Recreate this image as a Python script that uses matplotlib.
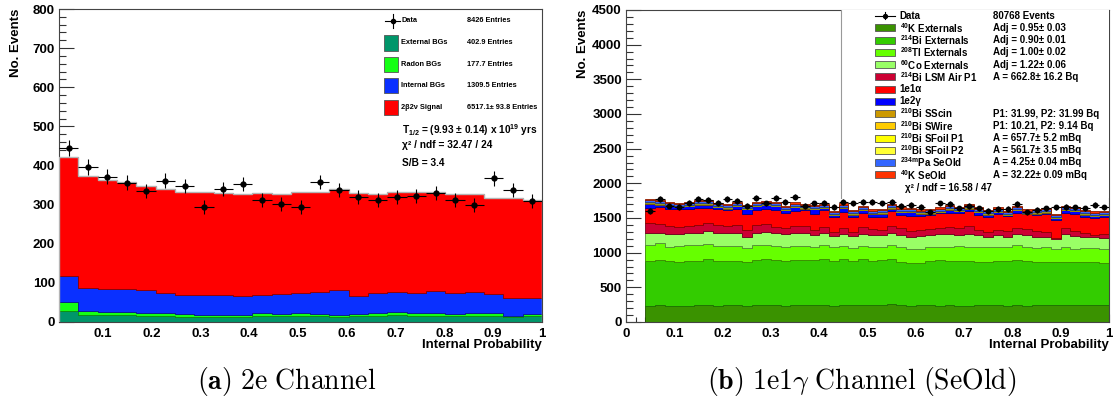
import numpy as np
import matplotlib.pyplot as plt
from matplotlib.patches import Rectangle
from matplotlib.ticker import MultipleLocator, FuncFormatter
from matplotlib.colors import to_rgb

plt.rcParams['font.family'] = ['Liberation Sans', 'DejaVu Sans']
plt.rcParams['font.weight'] = 'bold'
plt.rcParams['mathtext.fontset'] = 'custom'
plt.rcParams['mathtext.rm'] = 'Liberation Sans:bold'
plt.rcParams['mathtext.bf'] = 'Liberation Sans:bold'
plt.rcParams['mathtext.it'] = 'Liberation Sans:bold:italic'

# ---- 2e channel: 25 bins in internal probability, 0.01 - 1.0 ----
data_2e = [445, 396, 371, 356, 335, 361, 348, 294, 340, 353, 312, 302, 294,
           358, 337, 320, 312, 319, 323, 330, 312, 299, 368, 337, 309]
ext_bg = [28, 18, 18, 17, 16, 15, 14, 13, 14, 14, 15, 15, 15, 15, 14, 15,
          16, 17, 15, 16, 15, 16, 15, 13, 15]
radon_bg = [23, 10, 8, 9, 7, 8, 6, 5, 5, 5, 8, 6, 8, 5, 5, 6, 7, 9, 8, 6,
            6, 7, 7, 3, 5]
internal_bg = [67, 59, 58, 59, 59, 51, 49, 50, 50, 48, 47, 51, 51, 57, 63,
               45, 51, 51, 51, 57, 53, 53, 50, 45, 42]
signal_2b2n = [304, 286, 278, 272, 266, 266, 264, 265, 261, 260, 260, 256,
               259, 256, 258, 264, 254, 255, 257, 254, 254, 252, 244, 255, 251]

labels_2e = ['External BGs', 'Radon BGs', 'Internal BGs', '2\u03b22\u03bd Signal']
entries_2e = ['402.9 Entries', '177.7 Entries', '1309.5 Entries',
              '6517.1\u00b1 93.8 Entries']
colors_2e = ['#00966a', '#14ff14', '#0a30ff', '#ff0000']

# ---- 1e1g channel (SeOld): 48 bins, 0.04 - 1.0, cumulative stack levels ----
data_1e1g = [1600, 1773, 1678, 1663, 1721, 1773, 1759, 1721, 1773, 1745, 1673, 1793,
             1711, 1793, 1735, 1802, 1673, 1711, 1721, 1663, 1730, 1711, 1726, 1726,
             1711, 1726, 1673, 1687, 1663, 1581, 1711, 1702, 1639, 1673, 1639, 1600,
             1629, 1629, 1697, 1581, 1615, 1639, 1654, 1663, 1654, 1639, 1687, 1654]
lvl_k40_ext = [232, 248, 236, 230, 234, 240, 242, 236, 244, 240, 236, 246,
               244, 238, 236, 242, 238, 242, 248, 236, 244, 238, 248, 242,
               250, 256, 248, 236, 238, 244, 236, 238, 236, 236, 244, 238,
               244, 236, 244, 236, 238, 238, 244, 252, 250, 238, 244, 252]
lvl_bi214_ext = [879, 894, 879, 870, 879, 884, 904, 884, 879, 879, 870, 894,
                 904, 894, 879, 894, 894, 894, 908, 884, 904, 884, 904, 884,
                 894, 908, 870, 846, 855, 884, 894, 879, 879, 879, 870, 870,
                 879, 884, 894, 884, 870, 870, 860, 870, 860, 870, 860, 855]
lvl_tl208_ext = [1110, 1134, 1077, 1096, 1110, 1110, 1125, 1096, 1096, 1096, 1062, 1110,
                 1110, 1096, 1077, 1096, 1101, 1077, 1110, 1077, 1096, 1062, 1096, 1077,
                 1077, 1110, 1077, 1048, 1048, 1077, 1086, 1077, 1096, 1086, 1077, 1077,
                 1077, 1077, 1105, 1077, 1062, 1077, 1048, 1077, 1048, 1062, 1062, 1048]
lvl_co60_ext = [1288, 1288, 1269, 1269, 1278, 1288, 1307, 1288, 1278, 1278, 1230, 1288,
                1298, 1278, 1269, 1278, 1278, 1254, 1288, 1240, 1269, 1240, 1269, 1254,
                1254, 1288, 1254, 1230, 1240, 1254, 1269, 1269, 1254, 1269, 1254, 1230,
                1254, 1230, 1269, 1254, 1230, 1221, 1195, 1269, 1240, 1230, 1221, 1206]
lvl_bi214_air = [1423, 1413, 1384, 1375, 1384, 1399, 1423, 1399, 1389, 1399, 1327, 1399,
                 1413, 1375, 1351, 1384, 1384, 1327, 1375, 1302, 1351, 1302, 1365, 1336,
                 1327, 1384, 1351, 1317, 1327, 1336, 1351, 1365, 1360, 1384, 1327, 1302,
                 1327, 1312, 1351, 1336, 1317, 1302, 1215, 1351, 1317, 1278, 1254, 1269]
lvl_1e1a = [1649, 1663, 1634, 1625, 1634, 1639, 1649, 1625, 1615, 1625, 1553, 1615,
            1625, 1615, 1567, 1605, 1615, 1557, 1615, 1509, 1591, 1509, 1577, 1519,
            1519, 1605, 1543, 1528, 1528, 1543, 1567, 1577, 1577, 1601, 1543, 1519,
            1553, 1528, 1577, 1553, 1543, 1553, 1471, 1567, 1553, 1519, 1495, 1509]
lvl_1e2g = [1705, 1691, 1667, 1657, 1667, 1691, 1691, 1657, 1633, 1667, 1623, 1667,
            1681, 1667, 1609, 1657, 1633, 1623, 1643, 1537, 1643, 1547, 1609, 1561,
            1561, 1633, 1585, 1585, 1561, 1561, 1585, 1619, 1600, 1635, 1585, 1547,
            1585, 1537, 1609, 1561, 1561, 1575, 1498, 1609, 1595, 1549, 1527, 1537]
# small contributions on top of the stack (counts per bin)
bi210_sscin = [6, 5, 6, 4, 5, 6, 5, 4, 6, 5, 5, 6, 4, 5, 6, 5, 5, 6, 4, 5, 6, 5, 5, 4,
               6, 5, 5, 6, 4, 5, 5, 6, 5, 4, 6, 5, 5, 6, 4, 5, 5, 6, 5, 4, 6, 5, 5, 4]
bi210_swire = [3, 3, 2, 3, 4, 3, 3, 2, 3, 3, 4, 3, 3, 2, 3, 3, 3, 2, 3, 3, 4, 3, 2, 3,
               3, 3, 2, 3, 4, 3, 3, 2, 3, 3, 2, 3, 3, 4, 3, 2, 3, 3, 3, 2, 3, 3, 4, 3]
bi210_sfoil1 = [7, 6, 7, 6, 7, 8, 6, 7, 6, 7, 6, 7, 8, 6, 7, 6, 7, 6, 7, 7, 6, 8, 7, 6,
                7, 6, 7, 6, 7, 8, 6, 7, 6, 7, 7, 6, 8, 7, 6, 7, 6, 7, 7, 8, 6, 7, 6, 7]
bi210_sfoil2 = [5, 5, 4, 5, 6, 5, 5, 4, 5, 5, 6, 5, 4, 5, 5, 6, 5, 5, 4, 5, 5, 6, 5, 4,
                5, 6, 5, 5, 4, 5, 6, 5, 5, 4, 5, 5, 6, 5, 5, 4, 5, 6, 5, 5, 4, 5, 5, 6]
pa234m_seold = [30, 28, 31, 29, 27, 30, 32, 28, 29, 31, 27, 30, 29, 32, 28, 30,
                31, 27, 30, 28, 29, 31, 30, 28, 27, 30, 32, 29, 28, 30, 31, 29,
                28, 30, 29, 31, 27, 30, 29, 28, 31, 30, 27, 29, 30, 28, 31, 29]
k40_seold = [20, 18, 19, 17, 18, 20, 19, 17, 18, 19, 20, 18, 17, 19, 18, 20,
             18, 19, 17, 20, 18, 19, 18, 17, 19, 20, 18, 17, 19, 18, 20, 19,
             17, 18, 20, 19, 18, 17, 19, 20, 18, 19, 17, 18, 20, 19, 18, 17]

labels_1e1g = [r'$^{\mathbf{40}}$K Externals', r'$^{\mathbf{214}}$Bi Externals',
               r'$^{\mathbf{208}}$Tl Externals', r'$^{\mathbf{60}}$Co Externals',
               r'$^{\mathbf{214}}$Bi LSM Air P1', '1e1\u03b1', '1e2\u03b3',
               r'$^{\mathbf{210}}$Bi SScin', r'$^{\mathbf{210}}$Bi SWire',
               r'$^{\mathbf{210}}$Bi SFoil P1', r'$^{\mathbf{210}}$Bi SFoil P2',
               r'$^{\mathbf{234m}}$Pa SeOld', r'$^{\mathbf{40}}$K SeOld']
values_1e1g = ['Adj = 0.95\u00b1 0.03', 'Adj = 0.90\u00b1 0.01', 'Adj = 1.00\u00b1 0.02',
               'Adj = 1.22\u00b1 0.06', 'A = 662.8\u00b1 16.2 Bq', '', '',
               'P1: 31.99, P2: 31.99 Bq', 'P1: 10.21, P2: 9.14 Bq',
               'A = 657.7\u00b1 5.2 mBq', 'A = 561.7\u00b1 3.5 mBq',
               'A = 4.25\u00b1 0.04 mBq', 'A = 32.22\u00b1 0.09 mBq']
colors_1e1g = ['#3a9200', '#33cc00', '#66ff00', '#99ff66', '#cc0033', '#ff0000',
               '#0000ff', '#cc9900', '#ffcc00', '#ffff00', '#ffff33', '#3366ff',
               '#ff3300']


def darker(c, f=0.55):
    r, g, b = to_rgb(c)
    return (r * f, g * f, b * f)


def draw_levels(ax, edges, levels, colors):
    lower = np.zeros(len(edges) - 1)
    for upper, c in zip(levels, colors):
        upper = np.asarray(upper, dtype=float)
        ax.stairs(upper, edges, baseline=lower, fill=True, facecolor=c,
                  edgecolor=darker(c), lw=0.6, zorder=2)
        lower = upper
    return lower


def draw_data(ax, edges, counts, ms=3.5):
    centers = 0.5 * (edges[1:] + edges[:-1])
    half = 0.5 * (edges[1] - edges[0])
    counts = np.asarray(counts, dtype=float)
    ax.errorbar(centers, counts, yerr=np.sqrt(counts), xerr=half, fmt='o',
                color='k', ms=ms, lw=0.8, capsize=0, zorder=5)


def style_axes(ax, xmin, ymax, ymajor, yminor):
    ax.set_xlim(xmin, 1.0)
    ax.set_ylim(0, ymax)
    ax.set_axisbelow(True)
    ax.xaxis.set_major_locator(MultipleLocator(0.1))
    ax.xaxis.set_minor_locator(MultipleLocator(0.02))
    ax.yaxis.set_major_locator(MultipleLocator(ymajor))
    ax.yaxis.set_minor_locator(MultipleLocator(yminor))
    ax.xaxis.set_major_formatter(FuncFormatter(lambda v, p: f'{v:g}'))
    ax.tick_params(which='both', direction='in', top=False, right=False,
                   labelsize=9.5, width=0.8, color='#333333')
    ax.tick_params(axis='y', which='major', length=10.5, pad=3)
    ax.tick_params(axis='y', which='minor', length=5)
    ax.tick_params(axis='x', which='major', length=6, pad=4)
    ax.tick_params(axis='x', which='minor', length=3.5)
    for s in ax.spines.values():
        s.set_linewidth(0.8)
        s.set_color('#444444')
    ax.text(1.0, -0.0735, 'Internal Probability', transform=ax.transAxes,
            ha='right', va='center', fontsize=9.5)
    ax.text(-0.09, 1.0, 'No. Events', transform=ax.transAxes, rotation=90,
            ha='center', va='top', fontsize=9.5)


fig = plt.figure(figsize=(11.13, 4.0), dpi=100)

# ---------------- (a) 2e channel ----------------
ax1 = fig.add_axes([59 / 1113, 78 / 400, 483 / 1113, 313 / 400])
edges_2e = np.linspace(0.01, 1.0, len(data_2e) + 1)
stack_2e = np.cumsum([ext_bg, radon_bg, internal_bg, signal_2b2n], axis=0)
total_2e = draw_levels(ax1, edges_2e, stack_2e, colors_2e)
ax1.stairs(total_2e, edges_2e, color='#b4b4b4', lw=1.0, zorder=3)
draw_data(ax1, edges_2e, data_2e)
style_axes(ax1, 0.01, 800, 100, 20)

# legend
tr = ax1.transAxes
ax1.plot([0.675, 0.706], [0.962, 0.962], color='k', lw=0.8, transform=tr)
ax1.plot([0.6905, 0.6905], [0.94, 0.984], color='k', lw=0.8, transform=tr)
ax1.plot([0.6905], [0.962], 'o', color='k', ms=3, transform=tr)
ax1.text(0.709, 0.962, 'Data', transform=tr, va='center', fontsize=5.3)
ax1.text(0.845, 0.962, '8426 Entries', transform=tr, va='center', fontsize=5.3)
for i, (lab, ent, c) in enumerate(zip(labels_2e, entries_2e, colors_2e)):
    y = 0.8914 - i * 0.0683
    ax1.add_patch(Rectangle((0.673, y - 0.024), 0.029, 0.048, transform=tr,
                            facecolor=c, edgecolor='#555555', lw=0.6, zorder=6))
    ax1.text(0.709, y, lab, transform=tr, va='center', fontsize=5.3)
    ax1.text(0.845, y, ent, transform=tr, va='center', fontsize=5.3)
ax1.text(0.710, 0.613, r'T$_{\mathbf{1/2}}$ = (9.93 $\pm$ 0.14) x 10$^{\mathbf{19}}$ yrs',
         transform=tr, va='center', fontsize=7.3)
ax1.text(0.710, 0.5655, '\u03c7\u00b2 / ndf = 32.47 / 24', transform=tr,
         va='center', fontsize=7.3)
ax1.text(0.710, 0.508, 'S/B = 3.4', transform=tr, va='center', fontsize=7.3)

# ---------------- (b) 1e1g channel ----------------
ax2 = fig.add_axes([626 / 1113, 78 / 400, 483 / 1113, 312 / 400])
edges_1e1g = np.linspace(0.04, 1.0, len(data_1e1g) + 1)
levels = [lvl_k40_ext, lvl_bi214_ext, lvl_tl208_ext, lvl_co60_ext, lvl_bi214_air,
          lvl_1e1a, lvl_1e2g]
top = np.asarray(lvl_1e2g, dtype=float)
for extra in [bi210_sscin, bi210_swire, bi210_sfoil1, bi210_sfoil2,
              pa234m_seold, k40_seold]:
    top = top + np.asarray(extra)
    levels.append(top.copy())
draw_levels(ax2, edges_1e1g, levels, colors_1e1g)
draw_data(ax2, edges_1e1g, data_1e1g, ms=3.2)
style_axes(ax2, 0.0, 4500, 500, 100)
ax2.yaxis.set_major_formatter(FuncFormatter(lambda v, p: f'{v:g}'))

# legend box (white, only its left border shows)
tr = ax2.transAxes
ax2.add_patch(Rectangle((0.445, 0.397), 0.555, 0.603, transform=tr,
                        facecolor='white', edgecolor='none', zorder=6))
ax2.plot([0.445, 0.445], [0.397, 1.0], color='#999999', lw=0.8, transform=tr,
         zorder=6)
row0 = 0.9817
step = 0.0392
ax2.plot([0.5155, 0.557], [row0, row0], color='k', lw=0.8, transform=tr, zorder=7)
ax2.plot([0.536, 0.536], [row0 - 0.012, row0 + 0.012], color='k', lw=0.8,
         transform=tr, zorder=7)
ax2.plot([0.536], [row0], 'o', color='k', ms=2.8, transform=tr, zorder=7)
ax2.text(0.567, row0, 'Data', transform=tr, va='center', fontsize=7, zorder=7)
ax2.text(0.760, row0, '80768 Events', transform=tr, va='center', fontsize=7, zorder=7)
for i, (lab, val, c) in enumerate(zip(labels_1e1g, values_1e1g, colors_1e1g)):
    y = row0 - (i + 1) * step
    ax2.add_patch(Rectangle((0.5155, y - 0.0112), 0.0415, 0.0224, transform=tr,
                            facecolor=c, edgecolor='#555555', lw=0.6, zorder=7))
    ax2.text(0.567, y, lab, transform=tr, va='center', fontsize=7, zorder=7)
    if val:
        ax2.text(0.760, y, val, transform=tr, va='center', fontsize=7, zorder=7)
ax2.text(0.578, 0.4295, '\u03c7\u00b2 / ndf = 16.58 / 47', transform=tr,
         va='center', fontsize=7, zorder=7)

# captions
fig.text(287 / 1113, 1 - 382 / 400, r'$\mathbf{(a)}\ \mathrm{2e\ Channel}$',
         ha='center', va='center', fontsize=20, math_fontfamily='cm')
fig.text(862 / 1113, 1 - 382 / 400,
         r'$\mathbf{(b)}\ \mathrm{1e1}\gamma\ \mathrm{Channel\ (SeOld)}$',
         ha='center', va='center', fontsize=20, math_fontfamily='cm')

fig.savefig('out.png', dpi=100)
